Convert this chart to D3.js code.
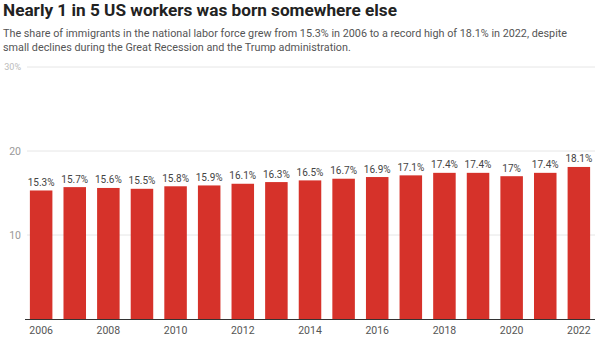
<!DOCTYPE html>
<html><head><meta charset="utf-8">
<script src="https://cdn.jsdelivr.net/npm/d3@7"></script>
<style>
body{margin:0;background:#fff;}
svg{display:block;font-family:Roboto, "Noto Sans", sans-serif;}
</style></head>
<body>
<svg id="c" width="600" height="339"></svg>
<script>
const years = [2006,2007,2008,2009,2010,2011,2012,2013,2014,2015,2016,2017,2018,2019,2020,2021,2022];
const shares = [15.3,15.7,15.6,15.5,15.8,15.9,16.1,16.3,16.5,16.7,16.9,17.1,17.4,17.4,17,17.4,18.1];
const valueLabels = ["15.3%","15.7%","15.6%","15.5%","15.8%","15.9%","16.1%","16.3%","16.5%","16.7%","16.9%","17.1%","17.4%","17.4%","17%","17.4%","18.1%"];
const yTicks = [10,20,30];
const yTickLabels = ["10","20","30%"];
const xTickYears = [2006,2008,2010,2012,2014,2016,2018,2020,2022];
const title = "Nearly 1 in 5 US workers was born somewhere else";
const subtitle = ["The share of immigrants in the national labor force grew from 15.3% in 2006 to a record high of 18.1% in 2022, despite",
                  "small declines during the Great Recession and the Trump administration."];

const svg = d3.select("#c");
svg.append("text").attr("x",3).attr("y",16).attr("font-size",17.2).attr("font-weight",700)
  .attr("fill","#222").text(title);
svg.append("g").selectAll("text").data(subtitle).join("text")
  .attr("x",3).attr("y",(d,i)=>36.5+i*14).attr("font-size",10.8).attr("fill","#555").text(d=>d);

const x = d3.scaleBand().domain(years).range([24,596]).paddingInner(0.33).paddingOuter(0.175);
const y = d3.scaleLinear().domain([0,30]).range([319,67]);

// gridlines
svg.append("g").selectAll("line").data(yTicks).join("line")
  .attr("x1",27).attr("x2",595).attr("y1",d=>y(d)).attr("y2",d=>y(d))
  .attr("stroke","#e6e6e6").attr("stroke-width",1);
svg.append("g").selectAll("text").data(yTicks).join("text")
  .attr("x",21).attr("y",d=>y(d)).attr("dy","0.35em").attr("text-anchor","end")
  .attr("font-size",(d,i)=> i===2?9:10.5).attr("fill",(d,i)=> i===2?"#bbb":"#999")
  .text((d,i)=>yTickLabels[i]);

// bars
svg.append("g").selectAll("rect").data(years).join("rect")
  .attr("x",d=>x(d)).attr("width",x.bandwidth())
  .attr("y",(d,i)=>y(shares[i])).attr("height",(d,i)=>y(0)-y(shares[i]))
  .attr("fill","#d6322a");

// value labels
svg.append("g").selectAll("text").data(years).join("text")
  .attr("x",d=>x(d)+x.bandwidth()/2).attr("y",(d,i)=>y(shares[i])-4.5)
  .attr("text-anchor","middle").attr("font-size",10).attr("fill","#444")
  .text((d,i)=>valueLabels[i]);

// baseline
svg.append("line").attr("x1",25).attr("x2",595).attr("y1",y(0)+0.5).attr("y2",y(0)+0.5)
  .attr("stroke","#333").attr("stroke-width",1);

// x labels
svg.append("g").selectAll("text").data(xTickYears).join("text")
  .attr("x",d=>x(d)+x.bandwidth()/2).attr("y",334).attr("text-anchor","middle")
  .attr("font-size",10.5).attr("fill","#555").text(d=>d);
</script>
</body></html>
